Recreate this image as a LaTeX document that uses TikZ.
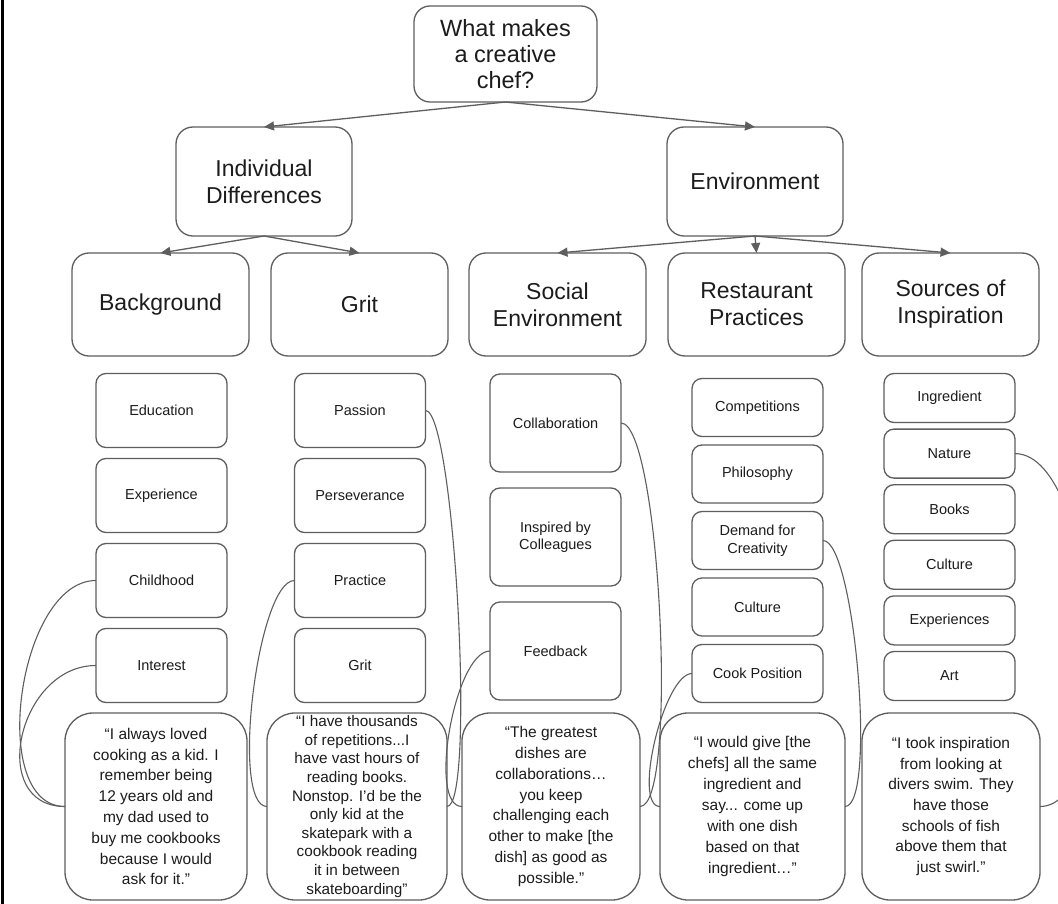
\documentclass[tikz,border=0pt]{standalone}
\usepackage{fontspec}
\setmainfont{Liberation Sans}
\usepackage{tikz}
\usetikzlibrary{arrows.meta, positioning, calc}

\definecolor{linegray}{HTML}{5E5E5E}
\definecolor{inkgray}{HTML}{1C1C1C}

\begin{document}
\begin{tikzpicture}[x=1pt,y=-1pt,every node/.style={draw=linegray,line width=1.3pt,outer sep=0pt,inner sep=0pt,align=center,text=inkgray}]
\tikzstyle{headbox}=[rounded corners=17pt,minimum width=177pt,minimum height=103pt,font=\fontsize{23}{27}\selectfont]
\tikzstyle{leaf}=[rounded corners=10pt,minimum width=131pt,font=\fontsize{14.5}{17.5}\selectfont]
\tikzstyle{quotebox}=[rounded corners=28pt,minimum height=187pt,font=\fontsize{15.5}{20.8}\selectfont]
\tikzstyle{branch}=[draw=linegray,line width=1.3pt,-{Triangle[length=10pt,width=9pt]}]
\tikzstyle{curvelink}=[draw=linegray,line width=1.1pt]

\fill [white] (0,0) rectangle (1058,904);
\useasboundingbox (0,0) rectangle (1058,904);
\clip (0,0) rectangle (1058,904);
\draw [line width=3pt,black] (2,0) -- (2,904);

% question and the two sides
\node (chef) [headbox,rounded corners=16pt,minimum width=183pt,minimum height=96pt,font=\fontsize{23.5}{26}\selectfont] at (505.5,54) {What makes\\a creative\\chef?};
\node (indiv) [headbox,minimum width=176pt,minimum height=109pt] at (264,181.5) {Individual\\Differences};
\node (env) [headbox,minimum width=176pt,minimum height=109pt] at (755,181.5) {Environment};

% themes
\node (bg) [headbox] at (160.5,304.5) {Background};
\node (grit) [headbox,right=22pt of bg] {Grit};
\node (social) [headbox,right=21pt of grit] {Social\\Environment};
\node (rest) [headbox,right=22pt of social] {Restaurant\\Practices};
\node (src) [headbox,right=17pt of rest] {Sources of\\Inspiration};

\draw [branch] (chef.south) -- (indiv.north);
\draw [branch] (chef.south) -- (env.north);
\draw [branch] (indiv.south) -- (bg.north);
\draw [branch] (indiv.south) -- (grit.north);
\draw [branch] (env.south) -- (social.north);
\draw [branch] (env.south) -- (rest.north);
\draw [branch] (env.south) -- (src.north);

% codes under Background
\node (edu) [leaf,minimum height=74pt] at (161.5,410.5) {Education};
\node (exper) [leaf,minimum height=74pt,below=11pt of edu] {Experience};
\node (child) [leaf,minimum height=74pt,below=11pt of exper] {Childhood};
\node (interest) [leaf,minimum height=74pt,below=11pt of child] {Interest};

% codes under Grit
\node (passion) [leaf,minimum height=74pt] at (360,410.5) {Passion};
\node (persev) [leaf,minimum height=74pt,below=11pt of passion] {Perseverance};
\node (practice) [leaf,minimum height=74pt,below=11pt of persev] {Practice};
\node (gritleaf) [leaf,minimum height=74pt,below=11pt of practice] {Grit};

% codes under Social Environment
\node (collab) [leaf,minimum height=98pt] at (555.5,423) {Collaboration};
\node (inspired) [leaf,minimum height=98pt,below=16pt of collab] {Inspired by\\Colleagues};
\node (feedback) [leaf,minimum height=98pt,below=16pt of inspired] {Feedback};

% codes under Restaurant Practices
\node (compet) [leaf,minimum height=58pt] at (757.5,407.5) {Competitions};
\node (philo) [leaf,minimum height=58pt,below=8.5pt of compet] {Philosophy};
\node (demand) [leaf,minimum height=58pt,below=8.5pt of philo] {Demand for\\Creativity};
\node (rculture) [leaf,minimum height=58pt,below=8.5pt of demand] {Culture};
\node (cookpos) [leaf,minimum height=58pt,below=8.5pt of rculture] {Cook Position};

% codes under Sources of Inspiration
\node (ingred) [leaf,minimum height=49pt] at (949.5,398) {Ingredient};
\node (nature) [leaf,minimum height=49pt,below=6.6pt of ingred] {Nature};
\node (books) [leaf,minimum height=49pt,below=6.6pt of nature] {Books};
\node (sculture) [leaf,minimum height=49pt,below=6.6pt of books] {Culture};
\node (experiences) [leaf,minimum height=49pt,below=6.6pt of sculture] {Experiences};
\node (art) [leaf,minimum height=49pt,below=6.6pt of experiences] {Art};

% quotes
\node (qbg) [quotebox,minimum width=182pt] at (156,806.5) {“I always loved\\cooking as a kid. I\\remember being\\12 years old and\\my dad used to\\buy me cookbooks\\because I would\\ask for it.”};
\node (qgrit) [quotebox,minimum width=180pt,font=\fontsize{15.3}{18.6}\selectfont] at (357,806.5) {“I have thousands\\of repetitions...I\\have vast hours of\\reading books.\\Nonstop. I’d be the\\only kid at the\\skatepark with a\\cookbook reading\\it in between\\skateboarding”};
\node (qsoc) [quotebox,minimum width=178pt,font=\fontsize{15.5}{20.9}\selectfont] at (551,806.5) {“The greatest\\dishes are\\collaborations…\\you keep\\challenging each\\other to make [the\\dish] as good as\\possible.”};
\node (qrest) [quotebox,minimum width=185pt,font=\fontsize{15.5}{20.9}\selectfont] at (752.5,806.5) {“I would give [the\\chefs] all the same\\ingredient and\\say... come up\\with one dish\\based on that\\ingredient…”};
\node (qsrc) [quotebox,minimum width=178pt,font=\fontsize{15.5}{20.6}\selectfont] at (951,806.5) {“I took inspiration\\from looking at\\divers swim. They\\have those\\schools of fish\\above them that\\just swirl.”};

% codes linked to quotes
\draw [curvelink] (child.west) .. controls +(-78,0) and +(-78,0) .. (qbg.west);
\draw [curvelink] (interest.west) .. controls +(-78,0) and +(-78,0) .. (qbg.west);
\draw [curvelink] (passion.east) .. controls +(29,0) and +(29,0) .. (qgrit.east);
\draw [curvelink] (practice.west) .. controls +(-37,0) and +(-37,0) .. (qgrit.west);
\draw [curvelink] (collab.east) .. controls +(39,0) and +(39,0) .. (qsoc.east);
\draw [curvelink] (feedback.west) .. controls +(-35,0) and +(-35,0) .. (qsoc.west);
\draw [curvelink] (demand.east) .. controls +(32,0) and +(32,0) .. (qrest.east);
\draw [curvelink] (cookpos.west) .. controls +(-28,0) and +(-28,0) .. (qrest.west);
\draw [curvelink] (nature.east) .. controls +(84,0) and +(84,0) .. (qsrc.east);
\end{tikzpicture}
\end{document}
